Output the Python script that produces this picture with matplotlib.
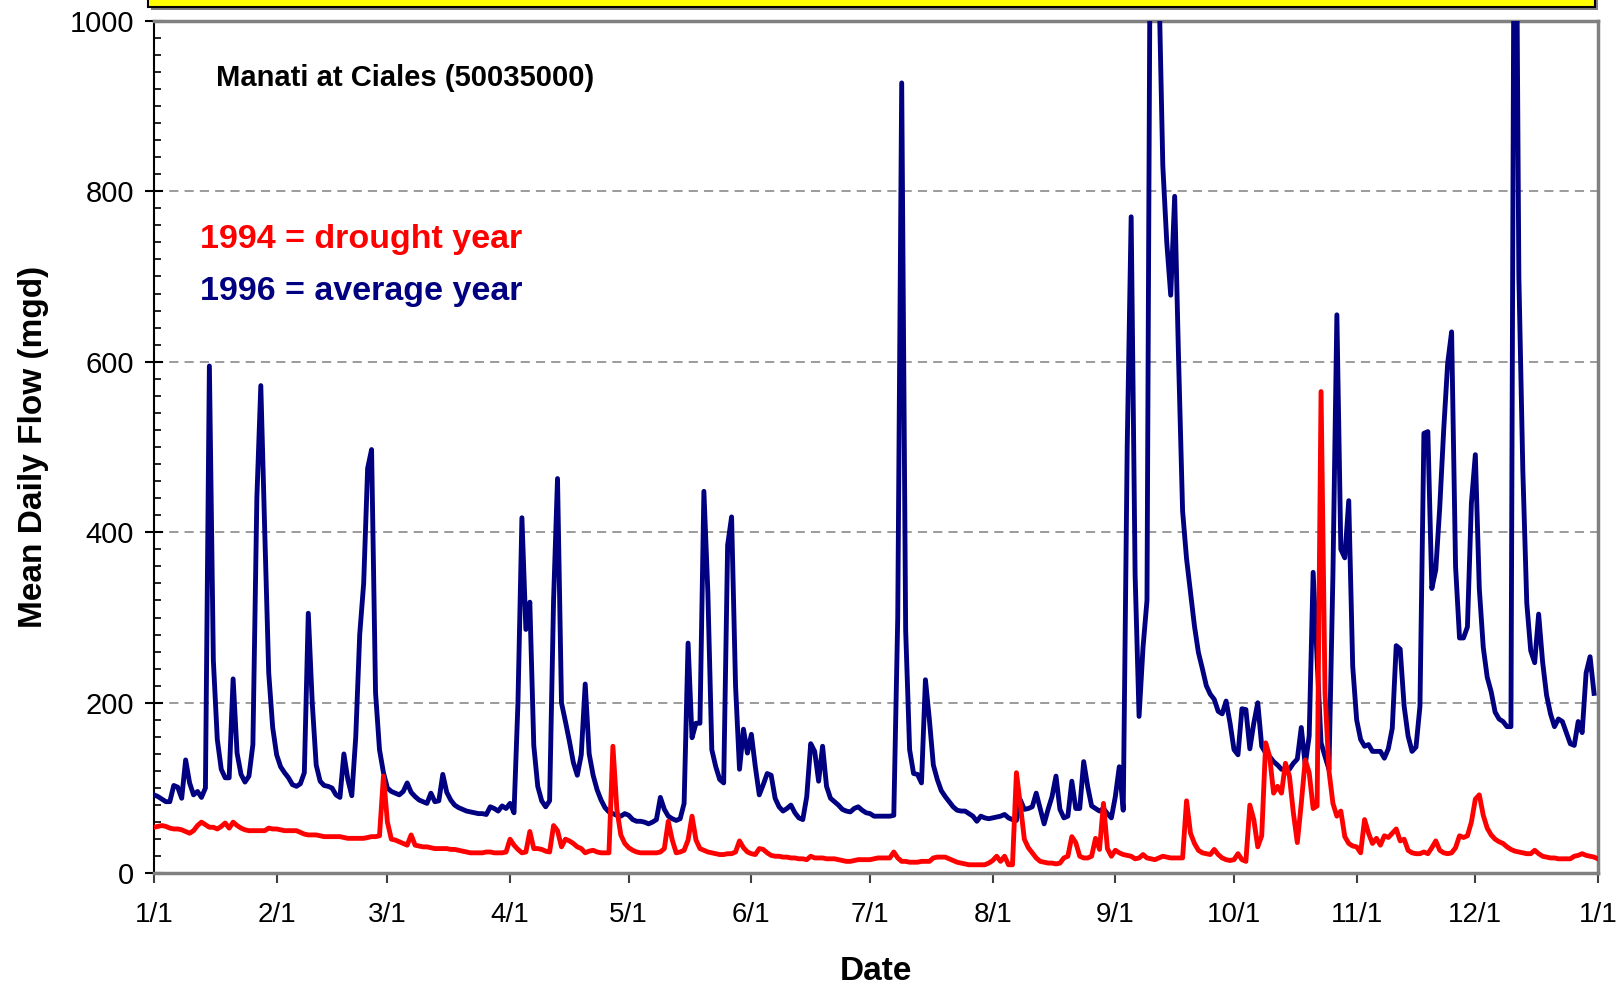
import numpy as np
import matplotlib
matplotlib.use("Agg")
import matplotlib.pyplot as plt
from matplotlib.patches import Rectangle
from matplotlib.ticker import MultipleLocator

plt.rcParams['font.family'] = ['Liberation Sans', 'DejaVu Sans']

# mean daily flow (mgd), one value per day
flow_1996 = [
    92, 90, 87, 84, 84, 103, 101, 88, 133, 106,
    92, 96, 89, 100, 595, 250, 157, 122, 112, 112,
    228, 141, 116, 107, 114, 151, 440, 572, 400, 235,
    171, 139, 125, 118, 112, 104, 102, 105, 118, 305,
    200, 127, 108, 103, 102, 100, 92, 89, 140, 110,
    91, 160, 280, 340, 475, 497, 212, 145, 118, 100,
    96, 94, 92, 96, 106, 95, 90, 86, 84, 82,
    94, 84, 85, 116, 95, 86, 80, 77, 75, 73,
    72, 71, 70, 70, 69, 78, 76, 73, 79, 76,
    82, 71, 200, 417, 286, 318, 150, 102, 85, 78,
    85, 320, 463, 200, 178, 155, 130, 115, 139, 222,
    140, 115, 98, 86, 77, 72, 70, 68, 67, 70,
    68, 63, 61, 61, 60, 58, 60, 63, 89, 75,
    67, 64, 62, 64, 82, 270, 159, 176, 176, 448,
    330, 145, 125, 110, 106, 385, 418, 220, 122, 169,
    141, 163, 125, 92, 104, 117, 115, 88, 78, 73,
    76, 80, 71, 65, 63, 90, 152, 143, 108, 149,
    102, 88, 84, 80, 75, 73, 72, 76, 78, 74,
    71, 70, 67, 67, 67, 67, 67, 68, 300, 927,
    285, 145, 117, 116, 106, 227, 180, 127, 110, 97,
    90, 84, 78, 74, 73, 73, 70, 67, 61, 67,
    65, 64, 65, 66, 67, 69, 65, 63, 62, 86,
    75, 76, 78, 94, 76, 58, 75, 90, 114, 75,
    65, 67, 108, 76, 76, 131, 102, 79, 76, 73,
    76, 70, 65, 90, 125, 74, 500, 770, 350, 184,
    265, 320, 1300, 1500, 1050, 830, 740, 678, 794, 600,
    425, 369, 330, 290, 259, 240, 220, 210, 204, 190,
    187, 202, 176, 145, 139, 193, 192, 146, 176, 200,
    149, 141, 137, 131, 127, 122, 122, 122, 129, 134,
    171, 127, 161, 353, 251, 153, 137, 122, 350, 655,
    380, 370, 437, 243, 180, 157, 149, 151, 143, 143,
    143, 135, 146, 170, 267, 263, 196, 161, 143, 148,
    196, 516, 518, 334, 356, 429, 520, 598, 635, 360,
    276, 276, 289, 434, 491, 334, 265, 230, 213, 189,
    181, 178, 172, 172, 1400, 700, 473, 317, 261, 247,
    304, 248, 209, 187, 172, 181, 178, 165, 152, 150,
    178, 165, 235, 254, 211,
]

flow_1994 = [
    54, 55, 56, 55, 53, 52, 52, 51, 49, 47,
    50, 56, 60, 57, 54, 54, 52, 55, 59, 53,
    60, 56, 53, 51, 50, 50, 50, 50, 50, 53,
    52, 52, 51, 50, 50, 50, 50, 48, 46, 45,
    45, 45, 44, 43, 43, 43, 43, 43, 42, 41,
    41, 41, 41, 41, 42, 43, 43, 44, 114, 60,
    40, 39, 37, 35, 33, 45, 33, 32, 31, 31,
    30, 29, 29, 29, 29, 28, 28, 27, 26, 25,
    24, 24, 24, 24, 25, 25, 24, 24, 24, 25,
    40, 33, 28, 24, 25, 49, 29, 29, 28, 26,
    25, 56, 50, 31, 40, 38, 35, 31, 29, 24,
    26, 27, 25, 24, 24, 24, 149, 75, 45, 35,
    30, 27, 25, 24, 24, 24, 24, 24, 25, 29,
    61, 39, 24, 25, 27, 39, 67, 39, 29, 27,
    25, 24, 23, 22, 22, 23, 23, 25, 38, 30,
    25, 23, 22, 29, 28, 24, 21, 20, 20, 19,
    19, 18, 18, 17, 17, 16, 20, 18, 18, 18,
    17, 17, 17, 16, 15, 14, 14, 15, 16, 16,
    16, 16, 17, 18, 18, 18, 18, 25, 18, 14,
    14, 13, 13, 13, 14, 14, 14, 18, 19, 19,
    19, 17, 15, 13, 12, 11, 10, 10, 10, 10,
    10, 12, 15, 20, 14, 20, 10, 10, 118, 80,
    40, 30, 24, 18, 14, 13, 12, 12, 11, 12,
    18, 20, 43, 36, 20, 18, 18, 20, 41, 28,
    82, 29, 20, 27, 24, 22, 21, 20, 17, 18,
    22, 18, 17, 16, 18, 20, 19, 18, 18, 18,
    18, 85, 47, 35, 27, 24, 23, 22, 28, 22,
    18, 16, 15, 16, 23, 16, 14, 80, 63, 31,
    44, 153, 137, 94, 102, 94, 129, 114, 71, 36,
    82, 133, 118, 76, 79, 565, 212, 120, 82, 67,
    73, 43, 35, 32, 31, 24, 63, 47, 35, 41,
    33, 44, 42, 47, 52, 38, 40, 27, 24, 23,
    23, 25, 23, 30, 38, 27, 24, 23, 24, 30,
    44, 42, 44, 60, 87, 92, 68, 53, 45, 40,
    37, 35, 31, 28, 26, 25, 24, 23, 23, 27,
    23, 20, 19, 18, 18, 17, 17, 17, 17, 20,
    21, 23, 21, 20, 19, 17,
]

month_starts = [0, 31, 59, 90, 120, 151, 181, 212, 243, 273, 304, 334, 365]
month_labels = ["1/1", "2/1", "3/1", "4/1", "5/1", "6/1", "7/1",
                "8/1", "9/1", "10/1", "11/1", "12/1", "1/1"]

fig = plt.figure(figsize=(16.21, 9.84), dpi=100)
ax = fig.add_axes([0.095, 0.1125, 0.8908, 0.8665])

ax.plot(np.arange(len(flow_1996)), flow_1996, color='#000080', lw=3.5, zorder=3)
ax.plot(np.arange(len(flow_1994)), flow_1994, color='#FF0000', lw=3.5, zorder=4)

ax.set_xlim(0, 365)
ax.set_ylim(0, 1000)
ax.set_xticks(month_starts)
ax.set_xticklabels(month_labels)
ax.set_yticks(range(0, 1001, 200))
ax.yaxis.set_minor_locator(MultipleLocator(20))

ax.yaxis.grid(True, which='major', linestyle=(0, (6, 4)), color='#808080', lw=1.1)
ax.set_axisbelow(True)

ax.tick_params(axis='y', which='major', direction='inout', length=13, width=1.5,
               color='black', labelsize=21, pad=8)
ax.tick_params(axis='y', which='minor', direction='in', length=5, width=1.2, color='black')
ax.tick_params(axis='x', which='major', direction='out', length=7, width=1.5,
               color='#404040', labelsize=20, pad=14)

for side in ['top', 'right', 'bottom']:
    ax.spines[side].set_color('#808080')
    ax.spines[side].set_linewidth(2.5)
ax.spines['left'].set_color('black')
ax.spines['left'].set_linewidth(1.5)

ax.set_xlabel("Date", fontsize=24, fontweight='bold', labelpad=20)
ax.set_ylabel("Mean Daily Flow (mgd)", fontsize=24, fontweight='bold', labelpad=15)

fig.text(216 / 1621, 1 - 77.5 / 984, "Manati at Ciales (50035000)", fontsize=21,
         fontweight='bold', va='center', ha='left')
fig.text(199.5 / 1621, 1 - 239.5 / 984, "1994 = drought year", fontsize=24.5,
         fontweight='bold', color='#FF0000', va='center', ha='left')
fig.text(199.5 / 1621, 1 - 291.5 / 984, "1996 = average year", fontsize=24.5,
         fontweight='bold', color='#000080', va='center', ha='left')

# yellow title box, cut off at the top edge
fig.patches.append(Rectangle((151 / 1621, 1 - 10 / 984), 1447 / 1621, 0.05,
                             transform=fig.transFigure, facecolor='#808080',
                             edgecolor='none', zorder=1))
fig.patches.append(Rectangle((148 / 1621, 1 - 7 / 984), 1447 / 1621, 0.05,
                             transform=fig.transFigure, facecolor='#FFFF00',
                             edgecolor='black', lw=1.5, zorder=2))

fig.savefig("out.png", dpi=100)
